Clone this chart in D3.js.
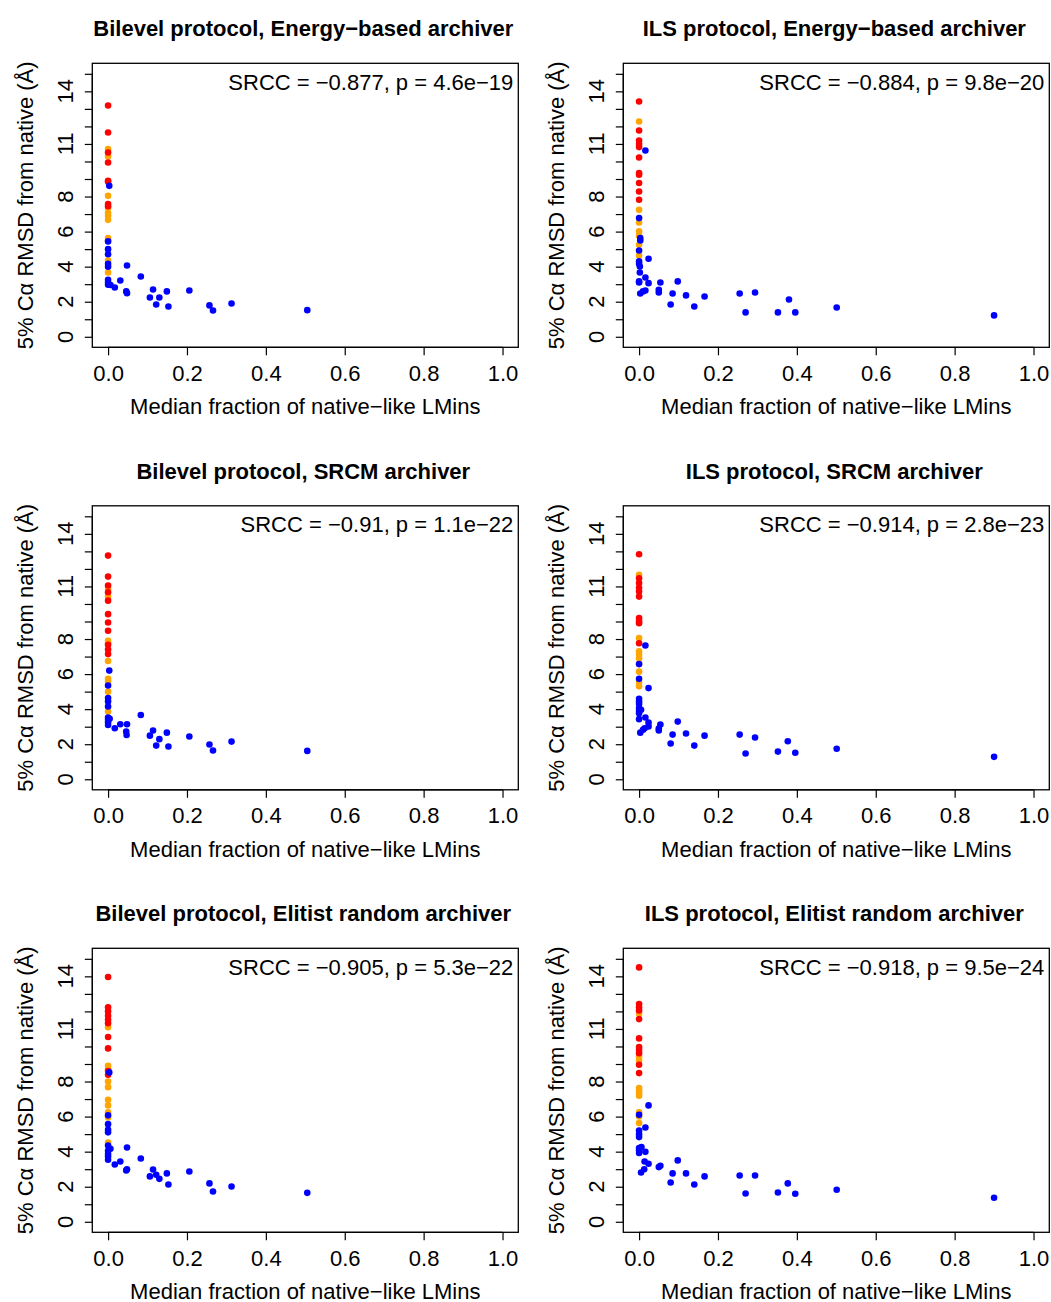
<!DOCTYPE html>
<html>
<head>
<meta charset="utf-8">
<script src="https://cdn.jsdelivr.net/npm/d3@7"></script>
<style>
  body { margin: 0; background: #fff; }
  svg { display: block; font-family: "Liberation Sans", Arial, Helvetica, sans-serif; }
</style>
</head>
<body>
<div id="chart"></div>
<script>
// point groups: 0 = red, 1 = orange, 2 = blue ; each point is [x, y, group]
const groupNames = ["red", "orange", "blue"];

const bilevelEnergy = [
  [0,10.71,1],[0,10.29,1],[0,8.04,1],[0,7.34,1],[0,7.06,1],[0,6.67,1],[0,6.9,1],[0,5.63,1],[0,5.5,1],[0,4.35,1],[0,3.67,1],
  [0,13.19,0],[0,11.65,0],[0,10.51,0],[0,9.94,0],[0,8.9,0],[0,8.85,0],[0,7.57,0],[0,7.45,0],
  [0.003,8.61,2],[0,5.44,2],[0,5.0,2],[0,4.71,2],[0,4.16,2],[0,4.0,2],[0,3.25,2],[0,3.1,2],[0,2.97,2],[0.006,2.95,2],
  [0.017,2.81,2],[0.031,3.21,2],[0.048,4.07,2],[0.046,2.59,2],[0.048,2.49,2],[0.083,3.44,2],[0.106,2.24,2],[0.114,2.70,2],
  [0.122,1.84,2],[0.130,2.24,2],[0.149,2.59,2],[0.153,1.73,2],[0.206,2.64,2],[0.257,1.79,2],[0.266,1.5,2],[0.313,1.9,2],[0.505,1.52,2]
];

const ilsEnergy = [
  [0,12.28,1],[0,7.24,1],[0,6.52,1],[0,6.01,1],[0,5.76,1],[0,5.25,1],[0,4.64,1],
  [0,13.42,0],[0,11.77,0],[0,11.2,0],[0,10.99,0],[0,10.82,0],[0,10.23,0],[0,9.34,0],[0,9.24,0],[0,8.77,0],[0,8.29,0],[0,7.82,0],
  [0.016,10.63,2],[0,6.77,2],[0.003,5.63,2],[0.003,5.49,2],[0,4.92,2],[0,4.3,2],[0,4.16,2],[0.002,4.01,2],[0.002,3.67,2],
  [0.024,4.45,2],[0.016,3.38,2],[0.024,3.06,2],[0,3.16,2],[0,3.1,2],[0.054,3.1,2],[0.003,2.47,2],[0.010,2.59,2],[0.016,2.64,2],
  [0.05,2.68,2],[0.05,2.53,2],[0.085,2.47,2],[0.080,1.84,2],[0.098,3.16,2],[0.119,2.36,2],[0.140,1.73,2],[0.166,2.3,2],
  [0.255,2.47,2],[0.270,1.39,2],[0.294,2.53,2],[0.352,1.39,2],[0.380,2.13,2],[0.396,1.39,2],[0.501,1.67,2],[0.900,1.22,2]
];

const bilevelSrcm = [
  [0,10.86,1],[0,10.42,1],[0,7.9,1],[0,7.76,1],[0,6.75,1],[0,5.73,1],[0,5.57,1],[0,5.0,1],[0,3.86,1],
  [0,12.76,0],[0,11.56,0],[0,11.05,0],[0,10.67,0],[0,10.19,0],[0,9.42,0],[0,8.94,0],[0,8.47,0],[0,7.67,0],[0,7.4,0],[0,7.14,0],
  [0.003,6.2,2],[0,5.35,2],[0,4.63,2],[0,4.43,2],[0,4.15,2],[0,3.52,2],[0.004,3.45,2],[0,3.39,2],[0,3.26,2],[0,3.1,2],
  [0.017,2.91,2],[0.031,3.14,2],[0.048,3.14,2],[0.046,2.72,2],[0.047,2.53,2],[0.083,3.67,2],[0.106,2.49,2],[0.114,2.78,2],
  [0.122,1.92,2],[0.130,2.29,2],[0.149,2.66,2],[0.153,1.87,2],[0.206,2.44,2],[0.257,1.98,2],[0.266,1.64,2],[0.313,2.15,2],[0.505,1.62,2]
];

const ilsSrcm = [
  [0,11.66,1],[0,8.05,1],[0,7.3,1],[0,7.1,1],[0,6.9,1],[0,6.58,1],[0,6.14,1],[0,5.55,1],[0,5.3,1],
  [0,12.84,0],[0,11.47,0],[0,11.2,0],[0,10.92,0],[0,10.71,0],[0,10.42,0],[0,9.19,0],[0,9.0,0],[0,8.9,0],[0,7.76,0],
  [0,6.57,2],[0,5.73,2],[0.016,7.63,2],[0.024,5.2,2],[0,4.59,2],[0,4.43,2],[0,4.3,2],[0,4.06,2],[0,3.9,2],[0,3.77,2],[0.005,3.96,2],[0,3.43,2],
  [0.016,3.52,2],[0.024,3.23,2],[0.024,3.01,2],[0.054,3.12,2],[0.05,2.78,2],[0.05,2.9,2],[0.098,3.29,2],[0.085,2.55,2],[0.080,2.04,2],
  [0.119,2.61,2],[0.140,1.92,2],[0.166,2.49,2],[0.003,2.66,2],[0.010,2.82,2],[0.014,2.91,2],
  [0.255,2.55,2],[0.270,1.47,2],[0.294,2.38,2],[0.352,1.58,2],[0.377,2.17,2],[0.396,1.51,2],[0.501,1.74,2],[0.900,1.28,2]
];

const bilevelElitist = [
  [0,11.1,1],[0,8.9,1],[0,8.71,1],[0,8.0,1],[0,7.68,1],[0,6.96,1],[0,6.64,1],[0,6.24,1],[0,5.95,1],[0,4.52,1],
  [0,13.96,0],[0,12.23,0],[0,12.0,0],[0,11.75,0],[0,11.52,0],[0,11.33,0],[0,10.54,0],[0,9.89,0],[0,8.6,0],[0,8.39,0],
  [0.003,8.52,2],[0,6.07,2],[0,5.57,2],[0,5.25,2],[0,5.1,2],[0,4.35,2],[0,4.05,2],[0,3.88,2],[0,3.73,2],[0,3.54,2],
  [0.006,4.16,2],[0.017,3.27,2],[0.031,3.44,2],[0.048,4.24,2],[0.046,2.93,2],[0.048,3.0,2],[0.083,3.61,2],[0.106,2.59,2],
  [0.114,2.98,2],[0.122,2.68,2],[0.130,2.45,2],[0.149,2.76,2],[0.153,2.13,2],[0.206,2.87,2],[0.257,2.19,2],[0.266,1.73,2],
  [0.313,2.01,2],[0.505,1.65,2]
];

const ilsElitist = [
  [0,11.87,1],[0,9.43,1],[0,9.2,1],[0,7.63,1],[0,7.49,1],[0,7.34,1],[0,7.19,1],[0,6.24,1],[0,6.01,1],[0,5.63,1],
  [0,14.51,0],[0,12.42,0],[0,12.23,0],[0,12.05,0],[0,11.56,0],[0,10.46,0],[0,9.97,0],[0,9.81,0],[0,9.62,0],[0,8.96,0],[0,8.48,0],
  [0,6.1,2],[0,5.21,2],[0,5.0,2],[0,4.83,2],[0,4.2,2],[0,4.07,2],[0,3.92,2],[0.006,4.26,2],[0.024,6.64,2],[0.016,5.38,2],
  [0.016,3.99,2],[0.014,3.44,2],[0.024,3.31,2],[0.013,3.0,2],[0.005,2.81,2],[0.05,3.12,2],[0.054,3.19,2],[0.098,3.5,2],
  [0.085,2.76,2],[0.080,2.24,2],[0.119,2.76,2],[0.140,2.13,2],[0.166,2.59,2],[0.255,2.64,2],[0.270,1.61,2],[0.294,2.64,2],
  [0.352,1.67,2],[0.377,2.19,2],[0.396,1.6,2],[0.501,1.83,2],[0.900,1.37,2]
];

const panelTitles = [
  "Bilevel protocol, Energy\u2212based archiver", "ILS protocol, Energy\u2212based archiver",
  "Bilevel protocol, SRCM archiver", "ILS protocol, SRCM archiver",
  "Bilevel protocol, Elitist random archiver", "ILS protocol, Elitist random archiver"
];
const panelStats = [
  "SRCC = \u22120.877, p = 4.6e\u221219", "SRCC = \u22120.884, p = 9.8e\u221220",
  "SRCC = \u22120.91, p = 1.1e\u221222", "SRCC = \u22120.914, p = 2.8e\u221223",
  "SRCC = \u22120.905, p = 5.3e\u221222", "SRCC = \u22120.918, p = 9.5e\u221224"
];
const panelData = [bilevelEnergy, ilsEnergy, bilevelSrcm, ilsSrcm, bilevelElitist, ilsElitist];

const xTicks = [0, 0.2, 0.4, 0.6, 0.8, 1.0];
const yTicks = d3.range(0, 16);
const yTickLabels = [0, 2, 4, 6, 8, 11, 14];
const xLabel = "Median fraction of native\u2212like LMins";
const yLabel = "5% C\u03b1 RMSD from native (\u00c5)";

const W = 1051, H = 1302;
const boxW = 426, boxH = 284;
const colX = [92.3, 623.3];
const rowY = [63.3, 505.8, 948.3];
const fs = 22;

const svg = d3.select("#chart").append("svg")
  .attr("width", W).attr("height", H);

const color = d3.scaleOrdinal().domain([0, 1, 2]).range(["#FF0000", "#FFA500", "#0000FF"]);

panelData.forEach((data, i) => {
  const col = i % 2, row = Math.floor(i / 2);
  const g = svg.append("g")
    .attr("transform", `translate(${colX[col]},${rowY[row]})`);

  const x = d3.scaleLinear().domain([-0.04, 1.04]).range([0, boxW]);
  const y = d3.scaleLinear().domain([-0.6, 15.6]).range([boxH, 0]);

  // points
  g.selectAll("circle")
    .data(data)
    .enter()
    .append("circle")
    .attr("cx", d => x(d[0]))
    .attr("cy", d => y(d[1]))
    .attr("r", 3.3)
    .attr("fill", d => color(d[2]));

  // x axis
  const xAxis = g.append("g")
    .attr("transform", `translate(0,${boxH})`)
    .call(d3.axisBottom(x).tickValues(xTicks).tickSize(8).tickPadding(10).tickFormat(d3.format(".1f")));
  xAxis.select(".domain").attr("d", `M${x(0)},0H${x(1)}`).attr("stroke-width", 1.2);
  xAxis.selectAll(".tick line").attr("stroke-width", 1.2);
  xAxis.selectAll("text").attr("font-size", fs).attr("fill", "#000")
    .attr("font-family", "Liberation Sans, Arial, sans-serif");

  // y axis
  const yAxis = g.append("g")
    .call(d3.axisLeft(y).tickValues(yTicks).tickSize(7.5).tickFormat(""));
  yAxis.select(".domain").attr("d", `M0,${y(0)}V${y(15)}`).attr("stroke-width", 1.2);
  yAxis.selectAll(".tick line").attr("stroke-width", 1.2);
  g.selectAll(".ylab")
    .data(yTickLabels)
    .enter()
    .append("text")
    .attr("class", "ylab")
    .attr("transform", d => `translate(-19.5,${y(d)}) rotate(-90)`)
    .attr("text-anchor", "middle")
    .attr("font-size", fs)
    .text(d => d);

  // box
  g.append("rect")
    .attr("width", boxW).attr("height", boxH)
    .attr("fill", "none").attr("stroke", "#000").attr("stroke-width", 1.3);

  // title
  g.append("text")
    .attr("x", boxW / 2 - 2)
    .attr("y", -27.3)
    .attr("text-anchor", "middle")
    .attr("font-weight", "bold")
    .attr("font-size", fs)
    .text(panelTitles[i]);

  // SRCC annotation
  g.append("text")
    .attr("x", boxW - 5)
    .attr("y", 26.7)
    .attr("text-anchor", "end")
    .attr("font-size", fs)
    .text(panelStats[i]);

  // axis labels
  g.append("text")
    .attr("x", boxW / 2)
    .attr("y", boxH + 67)
    .attr("text-anchor", "middle")
    .attr("font-size", fs)
    .text(xLabel);

  g.append("text")
    .attr("transform", `translate(-59.3,${boxH / 2}) rotate(-90)`)
    .attr("text-anchor", "middle")
    .attr("font-size", fs)
    .text(yLabel);
});
</script>
</body>
</html>
